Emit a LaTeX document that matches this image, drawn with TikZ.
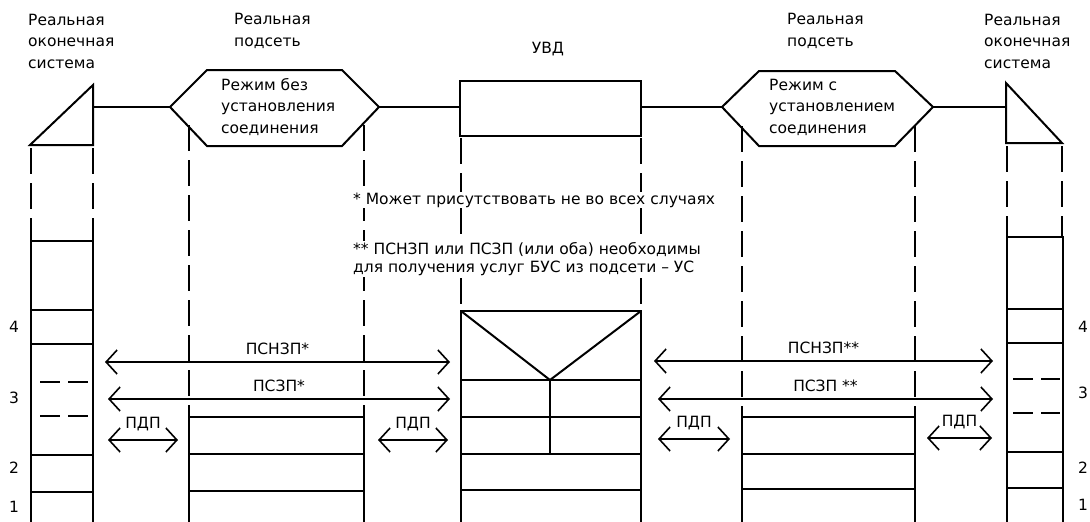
\documentclass[tikz,border=0pt]{standalone}
\usepackage{fontspec}
\setmainfont{DejaVu Sans}
\usepackage{tikz}
\usetikzlibrary{arrows.meta}

\tikzset{
  layer/.style={line width=2pt},
  guide/.style={line width=2pt, dash pattern=on 26pt off 9pt},
  subdash/.style={line width=1.8pt, dash pattern=on 20pt off 8pt},
  flow/.style={line width=1.6pt,
    {Straight Barb[length=11pt,width=24pt]}-{Straight Barb[length=11pt,width=24pt]}},
  lbl/.style={font=\fontsize{15.5}{21.5}\selectfont, align=left, inner sep=0pt},
  note/.style={lbl, fill=white, inner sep=1pt},
}

\begin{document}
\begin{tikzpicture}[x=1pt,y=-1pt]
    \useasboundingbox (0,0) rectangle (1090,522);

    % Captions over the chain
    \node[lbl, anchor=west] (endL) at (28,41) {Реальная\\оконечная\\система};
    \node[lbl, anchor=west] (subL) at (234,31) {Реальная\\подсеть};
    \node[lbl] (uvd) at (548,49) {УВД};
    \node[lbl, anchor=west] (subR) at (787,31) {Реальная\\подсеть};
    \node[lbl, anchor=west] (endR) at (984,41) {Реальная\\оконечная\\система};

    % Top chain
    \draw[layer] (30,145) -- (93,85) -- (93,145) -- cycle;
    \draw[layer] (93,107) -- (170,107);
    \draw[layer] (170,107) -- (207,70) -- (342,70) -- (379,107) -- (342,146) -- (207,146) -- cycle;
    \draw[layer] (379,107) -- (460,107);
    \draw[layer] (460,81) rectangle (641,136);
    \draw[layer] (641,107) -- (722,107);
    \draw[layer] (722,107) -- (759,71) -- (895,71) -- (933,107) -- (895,146) -- (759,146) -- cycle;
    \draw[layer] (933,107) -- (1006,107);
    \draw[layer] (1006,83) -- (1062,143) -- (1006,143) -- cycle;

    \node[lbl, anchor=west] (modeA) at (221,107) {Режим без\\установления\\соединения};
    \node[lbl, anchor=west] (modeB) at (769,107) {Режим с\\установлением\\соединения};

    % Dashed guides down to the stacks
    \draw[guide] (31,148) -- (31,241);
    \draw[guide] (93,148) -- (93,241);
    \draw[guide] (189,125) -- (189,417);
    \draw[guide] (364,125) -- (364,417);
    \draw[guide] (461,138) -- (461,311);
    \draw[guide] (641,138) -- (641,311);
    \draw[guide] (742,126) -- (742,417);
    \draw[guide] (915,126) -- (915,417);
    \draw[guide] (1007,146) -- (1007,237);
    \draw[guide] (1062,146) -- (1062,237);

    % Left end system
    \draw[layer] (31,530) -- (31,241) -- (93,241) -- (93,530);
    \draw[layer] (31,310) -- (93,310);
    \draw[layer] (31,344) -- (93,344);
    \draw[subdash] (40,382) -- (90,382);
    \draw[subdash] (40,416) -- (90,416);
    \draw[layer] (31,455) -- (93,455);
    \draw[layer] (31,492) -- (93,492);

    % Right end system
    \draw[layer] (1007,530) -- (1007,237) -- (1063,237) -- (1063,530);
    \draw[layer] (1007,309) -- (1063,309);
    \draw[layer] (1007,343) -- (1063,343);
    \draw[subdash] (1013,379) -- (1060,379);
    \draw[subdash] (1013,413) -- (1060,413);
    \draw[layer] (1007,452) -- (1063,452);
    \draw[layer] (1007,488) -- (1063,488);

    % Subnet stacks
    \draw[layer] (189,530) -- (189,417) -- (364,417) -- (364,530);
    \draw[layer] (189,454) -- (364,454);
    \draw[layer] (189,491) -- (364,491);
    \draw[layer] (742,530) -- (742,417) -- (915,417) -- (915,530);
    \draw[layer] (742,454) -- (915,454);
    \draw[layer] (742,489) -- (915,489);

    % Relay stack
    \draw[layer] (461,530) -- (461,311) -- (641,311) -- (641,530);
    \draw[layer] (461,311) -- (550,380) -- (641,311);
    \draw[layer] (461,380) -- (641,380);
    \draw[layer] (461,417) -- (641,417);
    \draw[layer] (461,454) -- (641,454);
    \draw[layer] (461,490) -- (641,490);
    \draw[layer] (550,380) -- (550,454);

    % Layer numbers
    \node[lbl] (nL4) at (14,327) {4};
    \node[lbl] (nL3) at (14,398) {3};
    \node[lbl] (nL2) at (14,468) {2};
    \node[lbl] (nL1) at (14,507) {1};
    \node[lbl, anchor=west] (nR4) at (1078,327) {4};
    \node[lbl, anchor=west] (nR3) at (1078,393) {3};
    \node[lbl, anchor=west] (nR2) at (1078,468) {2};
    \node[lbl, anchor=west] (nR1) at (1078,505) {1};

    % Notes
    \node[note, anchor=west] (fnA) at (352,200) {* Может присутствовать не во всех случаях};
    \node[note, anchor=west, font=\fontsize{15.5}{18}\selectfont] (fnB) at (352,259)
      {** ПСНЗП или ПСЗП (или оба) необходимы\\для получения услуг БУС из подсети -- УС};

    % Arrow ends
    \coordinate (cnL1) at (105,362); \coordinate (cnR1) at (450,362);
    \coordinate (coL1) at (108,399); \coordinate (coR1) at (450,399);
    \coordinate (pA1) at (108,440);  \coordinate (pA2) at (178,440);
    \coordinate (pB1) at (378,440);  \coordinate (pB2) at (448,440);
    \coordinate (cnL2) at (654,361); \coordinate (cnR2) at (993,361);
    \coordinate (coL2) at (658,399); \coordinate (coR2) at (993,399);
    \coordinate (pC1) at (658,439);  \coordinate (pC2) at (730,439);
    \coordinate (pD1) at (927,438);  \coordinate (pD2) at (992,438);

    \draw[flow] (cnL1) -- node[lbl, above=6pt] (tcnA) {ПСНЗП*} (cnR1);
    \draw[flow] (coL1) -- node[lbl, above=6pt] (tcoA) {ПСЗП*} (coR1);
    \draw[flow] (pA1) -- node[lbl, above=8pt] (tpA) {ПДП} (pA2);
    \draw[flow] (pB1) -- node[lbl, above=8pt] (tpB) {ПДП} (pB2);
    \draw[flow] (cnL2) -- node[lbl, above=6pt] (tcnB) {ПСНЗП**} (cnR2);
    \draw[flow] (coL2) -- node[lbl, above=6pt] (tcoB) {ПСЗП **} (coR2);
    \draw[flow] (pC1) -- node[lbl, above=8pt] (tpC) {ПДП} (pC2);
    \draw[flow] (pD1) -- node[lbl, above=8pt] (tpD) {ПДП} (pD2);
\end{tikzpicture}
\end{document}
